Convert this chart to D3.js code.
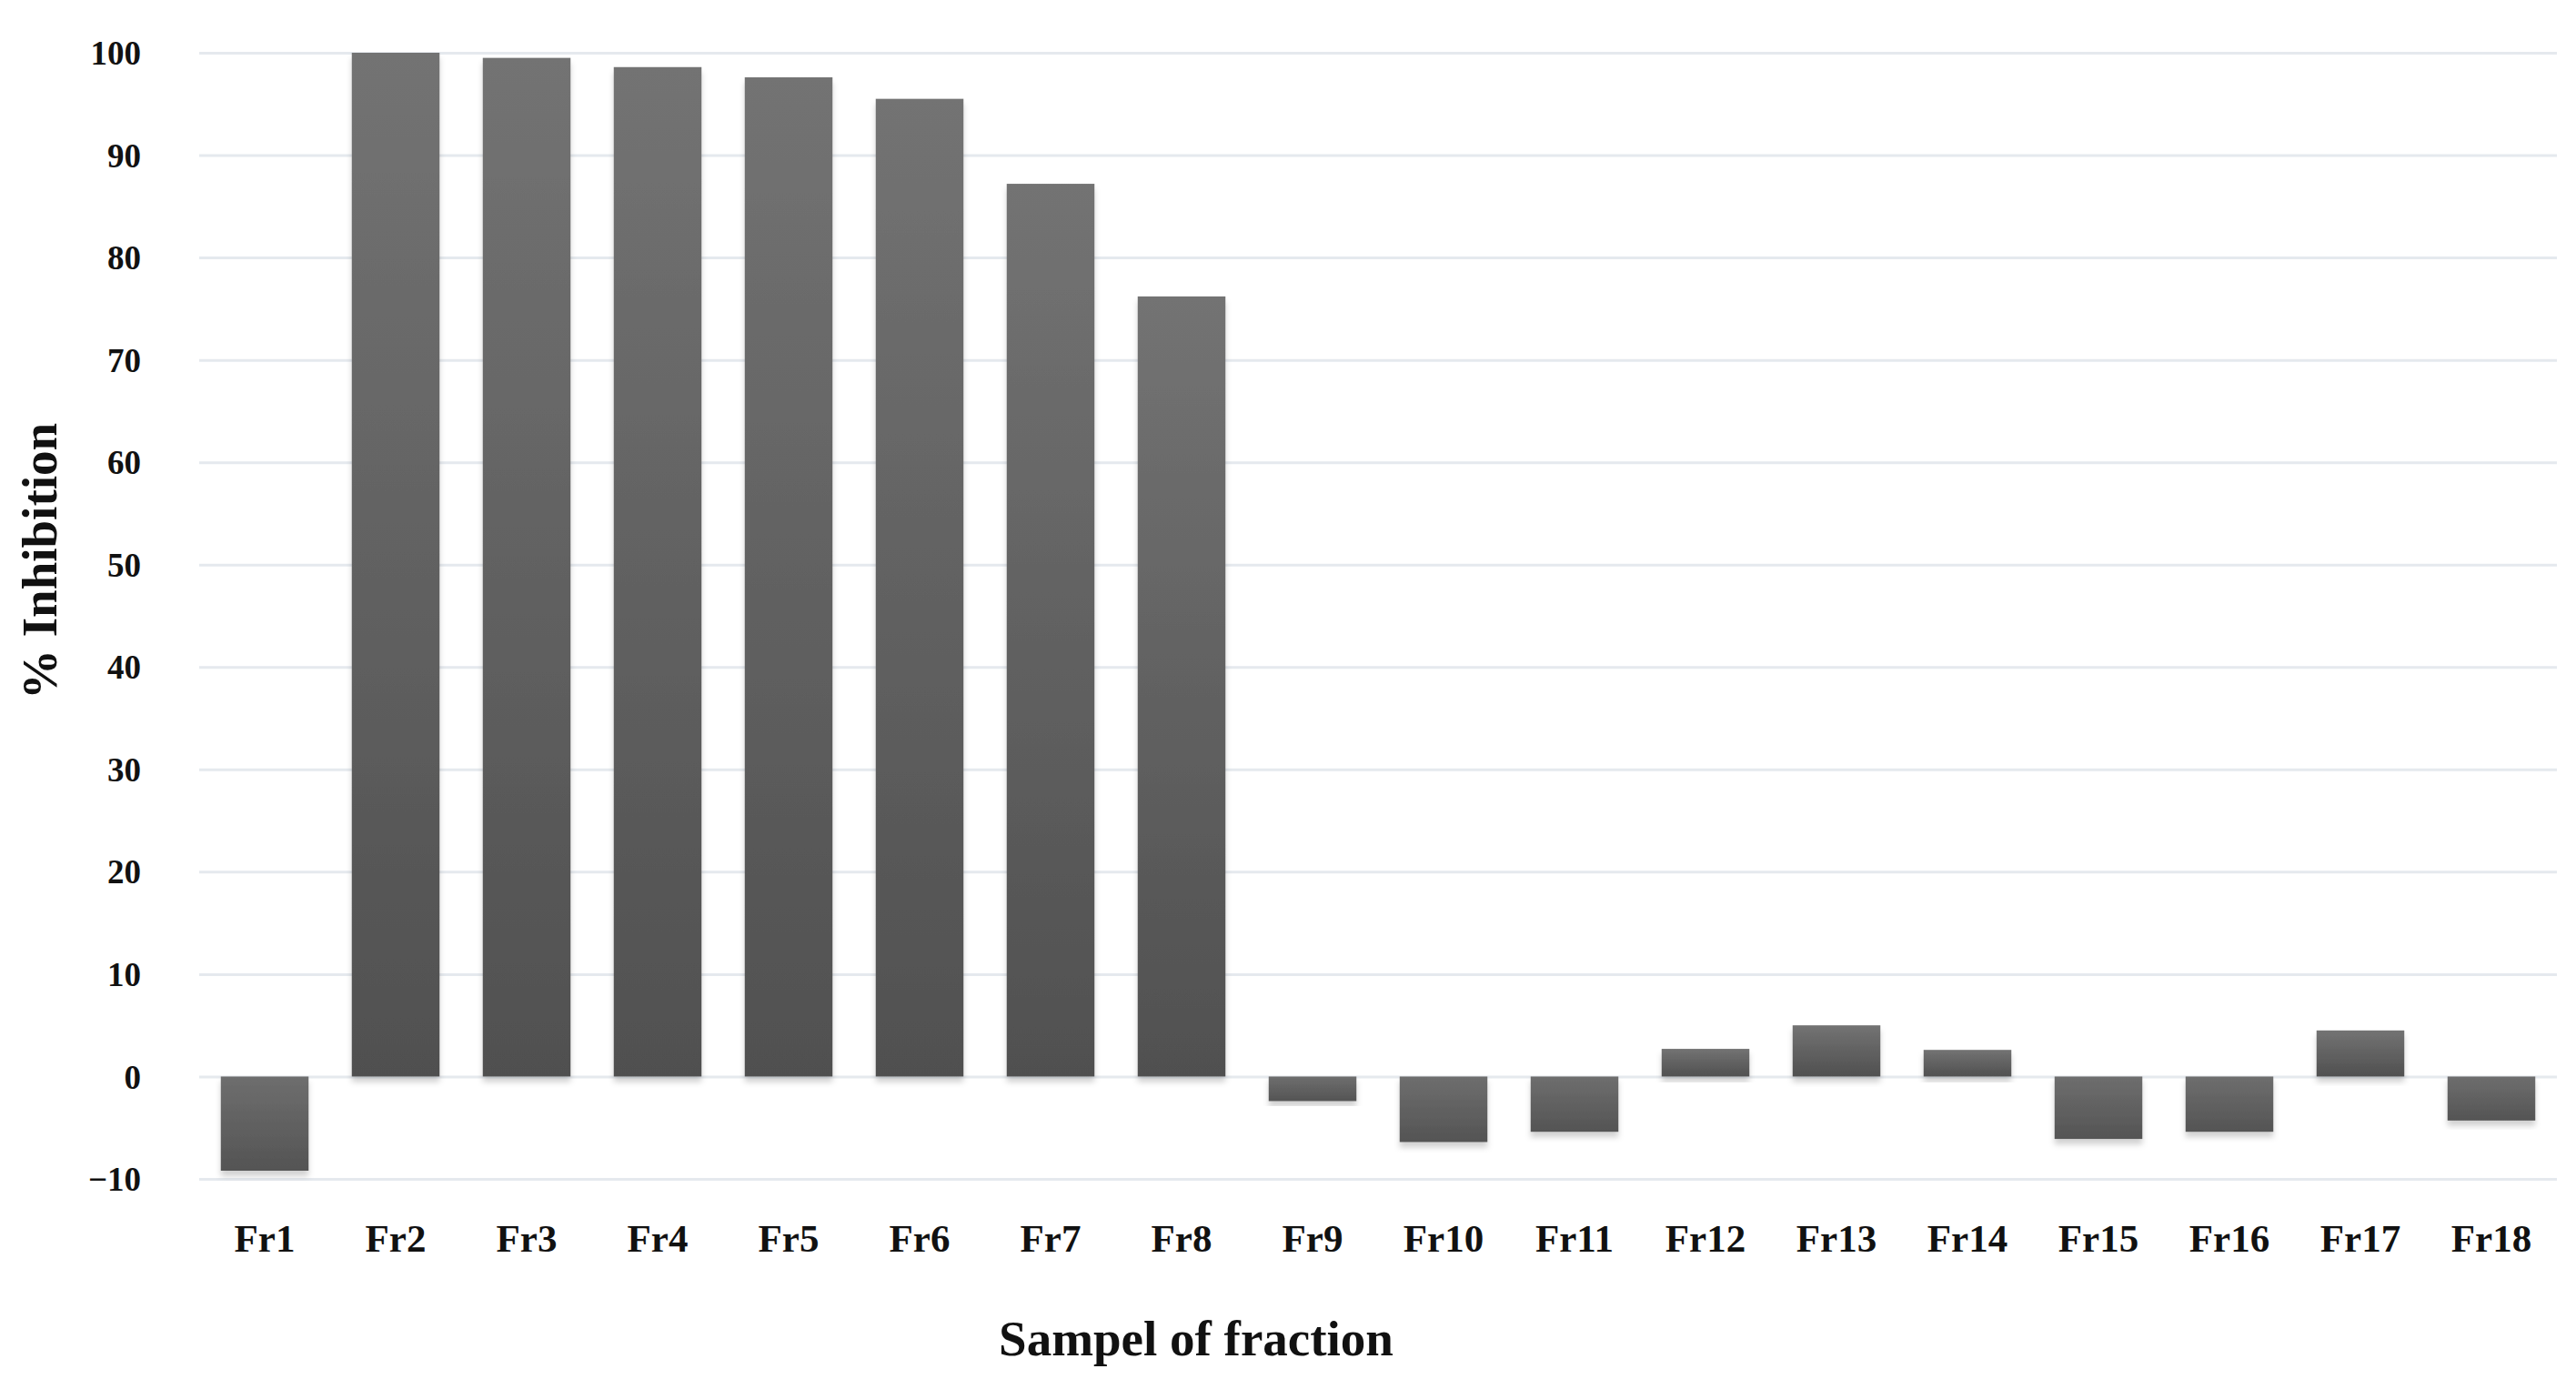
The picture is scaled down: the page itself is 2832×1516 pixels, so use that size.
<!DOCTYPE html>
<html>
<head>
<meta charset="utf-8">
<script src="https://cdn.jsdelivr.net/npm/d3@7"></script>
<style>
  html, body { margin: 0; padding: 0; background: #ffffff; }
  svg { display: block; }
</style>
</head>
<body>
<svg id="chart" width="2832" height="1516"></svg>
<script>
const categories = ["Fr1","Fr2","Fr3","Fr4","Fr5","Fr6","Fr7","Fr8","Fr9","Fr10","Fr11","Fr12","Fr13","Fr14","Fr15","Fr16","Fr17","Fr18"];
const inhibition = [-9.2, 100, 99.5, 98.6, 97.6, 95.5, 87.2, 76.2, -2.4, -6.4, -5.4, 2.7, 5.0, 2.6, -6.1, -5.4, 4.5, -4.3];
const yTicks = [-10, 0, 10, 20, 30, 40, 50, 60, 70, 80, 90, 100];
const xTitle = "Sampel of fraction";
const yTitle = "% Inhibition";

const svg = d3.select("#chart");
const font = "'Liberation Serif', 'Times New Roman', serif";

const x = d3.scaleBand().domain(categories).range([219, 2811]).paddingInner(0.33).paddingOuter(0.165);
const y = d3.scaleLinear().domain([-10, 100]).range([1296, 58]);

const defs = svg.append("defs");
const grad = defs.append("linearGradient").attr("id", "barGrad")
  .attr("x1", 0).attr("y1", 0).attr("x2", 0).attr("y2", 1);
grad.append("stop").attr("offset", "0%").attr("stop-color", "#737373");
grad.append("stop").attr("offset", "100%").attr("stop-color", "#505050");
const gradNeg = defs.append("linearGradient").attr("id", "barGradNeg")
  .attr("x1", 0).attr("y1", 0).attr("x2", 0).attr("y2", 1);
gradNeg.append("stop").attr("offset", "0%").attr("stop-color", "#6e6e6e");
gradNeg.append("stop").attr("offset", "100%").attr("stop-color", "#545454");
const filt = defs.append("filter").attr("id", "shadow")
  .attr("x", "-10%").attr("y", "-10%").attr("width", "120%").attr("height", "130%");
filt.append("feDropShadow").attr("dx", 0).attr("dy", 6).attr("stdDeviation", 3)
  .attr("flood-color", "#000").attr("flood-opacity", 0.18);

// gridlines via axis
const grid = svg.append("g").attr("transform", "translate(219,0)")
  .call(d3.axisLeft(y).tickValues(yTicks).tickSize(-(2811 - 219)).tickFormat(""));
grid.select(".domain").remove();
grid.selectAll(".tick line").attr("stroke", "#e5e9ee").attr("stroke-width", 3);

// y tick labels
const yAxis = svg.append("g").attr("transform", "translate(155,0)")
  .call(d3.axisLeft(y).tickValues(yTicks).tickSize(0).tickPadding(0).tickFormat(d => d < 0 ? "\u2212" + Math.abs(d) : d));
yAxis.select(".domain").remove();
yAxis.selectAll("text")
  .attr("font-family", font).attr("font-weight", "bold").attr("font-size", 37)
  .attr("fill", "#111").attr("dy", "0.34em");

// bars
svg.append("g").selectAll("rect").data(categories).join("rect")
  .attr("x", d => x(d))
  .attr("width", x.bandwidth())
  .attr("y", (d, i) => y(Math.max(0, inhibition[i])))
  .attr("height", (d, i) => Math.abs(y(inhibition[i]) - y(0)))
  .attr("fill", (d, i) => inhibition[i] >= 0 ? "url(#barGrad)" : "url(#barGradNeg)")
  .attr("filter", "url(#shadow)");

// x labels
const xAxis = svg.append("g").attr("transform", "translate(0,1376)")
  .call(d3.axisBottom(x).tickSize(0).tickPadding(0));
xAxis.select(".domain").remove();
xAxis.selectAll("text")
  .attr("font-family", font).attr("font-weight", "bold").attr("font-size", 43)
  .attr("fill", "#111").attr("dy", 0);

// titles
svg.append("text").attr("x", 1315).attr("y", 1490).attr("text-anchor", "middle")
  .attr("font-family", font).attr("font-weight", "bold").attr("font-size", 55)
  .attr("fill", "#111").text(xTitle);
svg.append("text").attr("transform", "translate(62,617) rotate(-90)").attr("text-anchor", "middle")
  .attr("font-family", font).attr("font-weight", "bold").attr("font-size", 55)
  .attr("fill", "#111").text(yTitle);
</script>
</body>
</html>
